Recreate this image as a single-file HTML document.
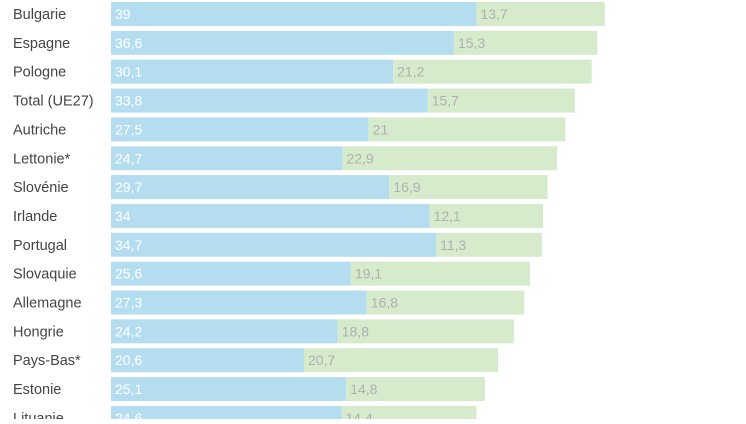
<!DOCTYPE html>
<html><head><meta charset="utf-8"><style>
body{margin:0;background:#fff;width:746px;height:419px;overflow:hidden}
svg text{font-family:"Liberation Sans",sans-serif}
</style></head><body>
<svg id="chart" width="746" height="419" xmlns="http://www.w3.org/2000/svg"></svg>
<script>
const categories=["Bulgarie","Espagne","Pologne","Total (UE27)","Autriche","Lettonie*","Slovénie","Irlande","Portugal","Slovaquie","Allemagne","Hongrie","Pays-Bas*","Estonie","Lituanie"];
const seriesA=[39,36.6,30.1,33.8,27.5,24.7,29.7,34,34.7,25.6,27.3,24.2,20.6,25.1,24.6];
const seriesB=[13.7,15.3,21.2,15.7,21,22.9,16.9,12.1,11.3,19.1,16.8,18.8,20.7,14.8,14.4];
const svg=document.getElementById('chart');
const NS='http://www.w3.org/2000/svg';
const x0=111,scale=9.37,top0=2,step=28.85,bh=24;
const xs=v=>v*scale;
const ys=i=>top0+i*step;
const fmt=v=>String(v).replace('.',',');
function mk(tag,attrs){const e=document.createElementNS(NS,tag);for(const k in attrs)e.setAttribute(k,attrs[k]);svg.appendChild(e);return e;}
categories.forEach((c,i)=>{
  const y=ys(i);
  const t=mk('text',{x:13,y:y+17,'font-size':14.5,fill:'#444'});
  t.textContent=c;
  
  
  const wa=xs(seriesA[i]),wb=xs(seriesB[i]);
  const ra=mk('rect',{x:x0,y:y,width:wa,height:bh,fill:'#b5ddf0'});
  
  
  const rb=mk('rect',{x:x0+wa,y:y,width:wb,height:bh,fill:'#d5ebcc'});
  
  
  const la=mk('text',{x:x0+4,y:y+17,'font-size':14,fill:'#fff'});
  la.textContent=fmt(seriesA[i]);
  
  
  const lb=mk('text',{x:x0+wa+4,y:y+17,'font-size':14,fill:'#b0b0b0'});
  lb.textContent=fmt(seriesB[i]);
  
  
});
</script>
</body></html>
